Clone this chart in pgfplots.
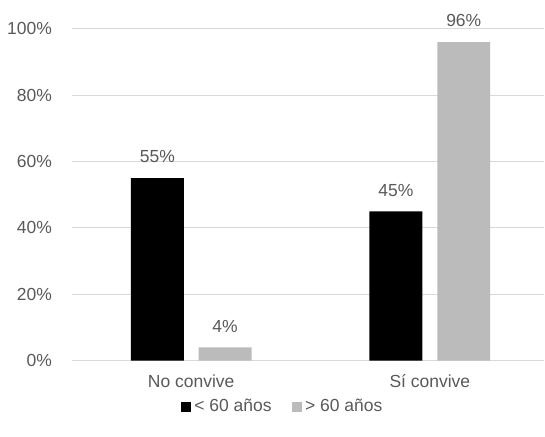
\documentclass[border=0pt]{standalone}
\usepackage{pgfplots}
\pgfplotsset{compat=1.18}
\usepackage{fontspec}
\setmainfont{Liberation Sans}
\definecolor{txt}{HTML}{595959}
\definecolor{gridc}{HTML}{D9D9D9}
\definecolor{barg}{HTML}{BBBBBB}
\begin{document}
\fontsize{17.5}{21}\selectfont
\begin{tikzpicture}
\begin{axis}[
  scale only axis,
  width=473pt, height=332pt,
  xmin=-0.5, xmax=1.48,
  ymin=0, ymax=100,
  ytick={0,20,40,60,80,100},
  yticklabel={\pgfmathprintnumber{\tick}\%},
  /pgf/number format/assume math mode=true,
  xtick={0,1},
  xticklabels={No convive, Sí convive},
  xmajorgrids=false,
  ymajorgrids=true,
  y grid style={draw=gridc, line width=1pt},
  axis line style={draw=none},
  major tick length=0pt,
  tick style={draw=none},
  ticklabel style={font=\fontsize{17.5}{21}\selectfont, text=txt},
  yticklabel style={xshift=-14pt},
  xticklabel style={yshift=-8pt},
  ybar, bar width=0.222,
  nodes near coords={\pgfmathprintnumber{\pgfplotspointmeta}\%},
  nodes near coords style={font=\fontsize{17.5}{21}\selectfont, text=txt, anchor=south, inner sep=0pt, yshift=15pt},
  clip=false,
  legend columns=2,
  legend style={draw=none, fill=none, at={(0.446,-0.1386)}, anchor=center,
    font=\fontsize{17.5}{21}\selectfont, text=txt,
    /tikz/every odd column/.append style={column sep=1.5pt},
    /tikz/every even column/.append style={column sep=18pt}},
  legend image code/.code={\fill[#1] (0pt,-5pt) rectangle (10pt,5pt);},
]
\draw[draw=gridc, line width=1.2pt] (axis cs:-0.5,0) -- (axis cs:1.48,0);
\addplot[fill=black, draw=none, bar shift=-0.142] coordinates {(0,55) (1,45)};
\addplot[fill=barg, draw=none, bar shift=0.142] coordinates {(0,4) (1,96)};
\legend{< 60 años, > 60 años}
\end{axis}
\path[use as bounding box] (current axis.south west) ++(-72pt,-76pt) rectangle ++(545pt,437pt);
\end{tikzpicture}
\end{document}
